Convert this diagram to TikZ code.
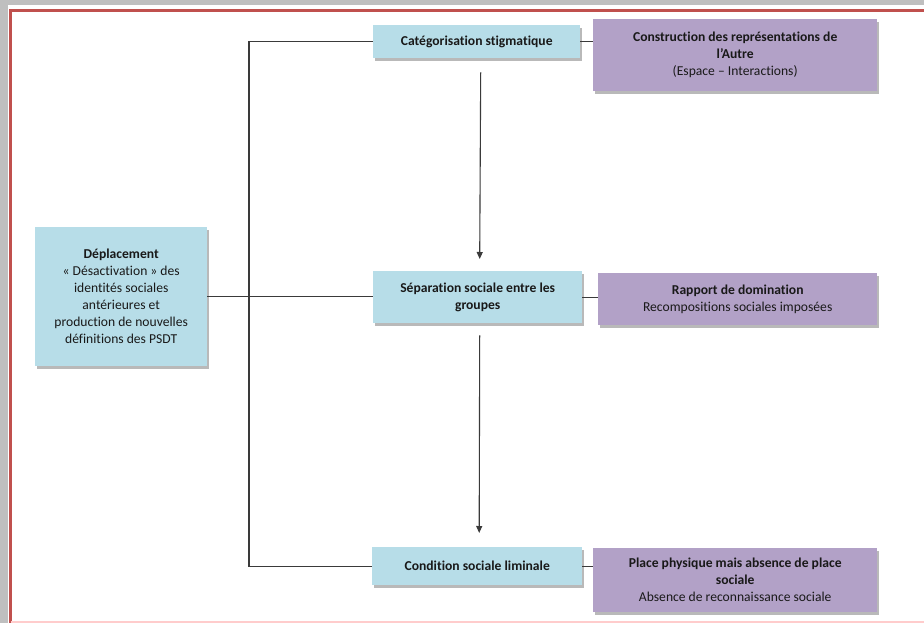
\documentclass[tikz,border=0pt]{standalone}
\usepackage{fontspec}
\setmainfont[Ligatures=NoCommon]{Carlito}
\usetikzlibrary{arrows.meta,shadows}
\definecolor{bluebox}{HTML}{B7DDE8}
\definecolor{purplebox}{HTML}{B2A1C7}
\definecolor{frame}{HTML}{C0504D}
\definecolor{linec}{HTML}{3A3A3A}
\tikzset{
  box/.style={anchor=north west, inner sep=0pt, align=center, text=black!90,
    font=\fontsize{13.6}{17}\selectfont,
    drop shadow={shadow xshift=2pt, shadow yshift=-3pt, fill=gray!55, opacity=1}},
  bbox/.style={box, fill=bluebox},
  pbox/.style={box, fill=purplebox},
  conn/.style={draw=linec, line width=1.1pt},
  arr/.style={conn, -{Triangle[length=7pt,width=6pt]}}
}
\begin{document}
\begin{tikzpicture}[x=1pt,y=-1pt]
\useasboundingbox (0,0) rectangle (924,623);
\fill[gray!50] (0,0) rectangle (924,623);
\fill[white] (8,5) rectangle (924,623);
\draw[frame, line width=2.6pt] (10.5,623) -- (10.5,10.5) -- (924,10.5);
\draw[red!20, line width=2pt] (10.5,621.5) -- (924,621.5);

\node[bbox, minimum width=172pt, minimum height=139pt] (left) at (35,227)
  {\textbf{Déplacement}\\« Désactivation » des\\identités sociales\\antérieures et\\production de nouvelles\\définitions des PSDT};

\node[bbox, minimum width=207pt, minimum height=33pt] (topb) at (373,25)
  {\textbf{Catégorisation stigmatique}};
\node[pbox, minimum width=284pt, minimum height=72pt] (topp) at (593,19)
  {\textbf{Construction des représentations de}\\\textbf{l’Autre}\\(Espace – Interactions)};

\node[bbox, minimum width=209pt, minimum height=52pt] (midb) at (373,271)
  {\textbf{Séparation sociale entre les}\\\textbf{groupes}};
\node[pbox, minimum width=279pt, minimum height=52pt] (midp) at (598,273)
  {\textbf{Rapport de domination}\\Recompositions sociales imposées};

\node[bbox, minimum width=210pt, minimum height=38pt] (botb) at (372,547)
  {\textbf{Condition sociale liminale}};
\node[pbox, minimum width=284pt, minimum height=64pt] (botp) at (593,548)
  {\textbf{Place physique mais absence de place}\\\textbf{sociale}\\Absence de reconnaissance sociale};

\coordinate (trunk) at (249,300);
\draw[conn] (topb.west) -| (trunk) |- (botb.west);
\draw[conn] (left.east) -- (left.east -| midb.west);
\draw[conn] (topb.east) -- (topb.east -| topp.west);
\draw[conn] (midb.east) -- (midb.east -| midp.west);
\draw[conn] (botb.east) -- (botb.east -| botp.west);

\draw[arr] ([xshift=4pt,yshift=-14pt]topb.south) -- ([xshift=2pt,yshift=12pt]midb.north);
\draw[arr] ([xshift=2pt,yshift=-12pt]midb.south) -- ([xshift=2pt,yshift=14pt]botb.north);
\end{tikzpicture}
\end{document}
